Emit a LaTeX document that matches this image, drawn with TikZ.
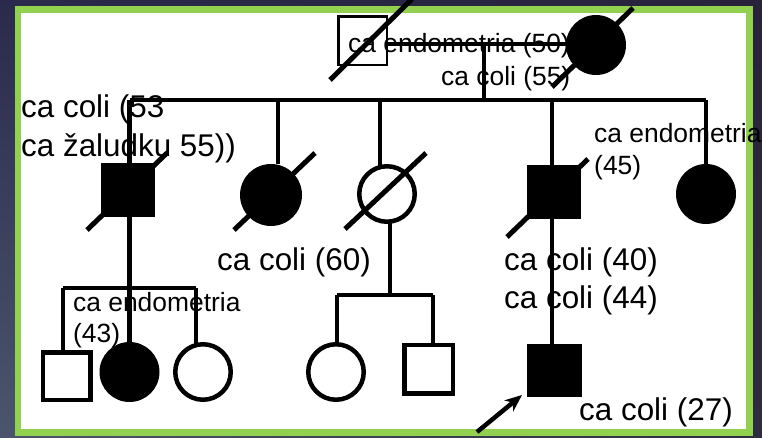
\documentclass[tikz,border=0pt]{standalone}
\usepackage{fontspec}
\setmainfont{Liberation Sans}
\usetikzlibrary{arrows.meta,shadings}
\definecolor{framegreen}{HTML}{92D050}
\definecolor{bgTL}{HTML}{2B2A4C}
\definecolor{bgTR}{HTML}{28233A}
\definecolor{bgBL}{HTML}{4C556E}
\definecolor{bgBR}{HTML}{2E2C40}
\begin{document}
\begin{tikzpicture}[x=1pt,y=-1pt,
  lnk/.style={line width=4.5pt},
  slash/.style={line width=5pt},
  fmale/.style={rectangle,fill=black,minimum size=54pt,inner sep=0pt},
  omale/.style={rectangle,draw=black,line width=4.5pt,fill=white,minimum size=47.5pt,inner sep=0pt},
  ffemale/.style={circle,fill=black,minimum size=60pt,inner sep=0pt},
  ofemale/.style={circle,draw=black,line width=4.5pt,fill=white,minimum size=55.5pt,inner sep=0pt},
  biglbl/.style={anchor=base west,inner sep=0pt,font=\fontsize{31.4}{39}\selectfont},
  smalllbl/.style={anchor=base west,inner sep=0pt,font=\fontsize{26.4}{32}\selectfont}]
\useasboundingbox (0,0) rectangle (762,438);
\shade[shading=bilinear interpolation, upper left=bgTL, upper right=bgTR, lower left=bgBL, lower right=bgBR] (0,0) rectangle (762,438);
\fill[white] (21,13) rectangle (746,429);
\draw[framegreen,line width=6.5pt] (18,9.5) rectangle (749.5,432.5);

% coordinates
\coordinate (m1) at (484,44);
\coordinate (sib) at (484,100);
\coordinate (sibL) at (129.5,100);
\coordinate (sibR) at (706,100);

% generation 1
\node[rectangle,draw=black,line width=2.5pt,fill=white,minimum size=48.5pt,inner sep=0pt] (gf) at (362.5,41) {};
\node[ffemale] (gm) at (596,45) {};

% generation 2
\node[fmale] (s1) at (128,190) {};
\node[ffemale,minimum size=62pt] (d1) at (271,195) {};
\node[ofemale] (d2) at (387,194) {};
\node[fmale] (s2) at (554,192) {};
\node[ffemale] (d3) at (706,194) {};

% generation 3
\node[omale] (c1) at (66.5,376) {};
\node[ffemale] (c2) at (129.5,372) {};
\node[ofemale] (c3) at (203,372) {};
\node[ofemale] (c4) at (336,372) {};
\node[omale,minimum size=48.5pt] (c5) at (428.5,369) {};
\node[fmale,minimum width=55pt,minimum height=53pt] (p) at (554.5,370.5) {};

% labels
\node[smalllbl] (t1) at (348,53) {ca endometria (50)};
\node[smalllbl] (t2) at (441,86) {ca coli (55)};
\node[biglbl] (t3) at (21,118) {ca coli (53};
\node[biglbl] (t4) at (21,157) {ca žaludku 55))};
\node[biglbl] (t5) at (217,270) {ca coli (60)};
\node[smalllbl] (t6) at (594,143) {ca endometria};
\node[smalllbl] (t7) at (594,175) {(45)};
\node[biglbl] (t8) at (504,270) {ca coli (40)};
\node[biglbl] (t9) at (504,308) {ca coli (44)};
\node[smalllbl] (t10) at (73,311) {ca endometria};
\node[smalllbl] (t11) at (73,342) {(43)};
\node[biglbl] (t12) at (579,420) {ca coli (27)};

% marriage and sibship
\draw[lnk] (gf.east |- m1) -- (gm.west |- m1);
\draw[lnk] (m1) -- (sib);
\draw[lnk] (sibL) -- (sibR);

% descent lines generation 2
\coordinate (b1) at (129.5,288);
\draw[lnk] (sibL) -- (b1);
\draw[lnk] (278,100) -- (278,164);
\draw[lnk] (380,100) -- (380,166);
\draw[lnk] (552,100) -- (552,344);
\draw[lnk] (sibR) -- (d3.north);

% left family
\coordinate (b1L) at (63,288);
\coordinate (b1R) at (196,288);
\draw[lnk] (b1L) -- (b1R);
\draw[lnk] (b1L) -- (63,350);
\draw[lnk] (b1R) -- (196,344);
\draw[lnk] (b1) -- (c2.north);

% middle family
\coordinate (b2) at (390,295);
\coordinate (b2L) at (337,295);
\coordinate (b2R) at (433,295);
\draw[lnk] (390,222) -- (b2);
\draw[lnk] (b2L) -- (b2R);
\draw[lnk] (b2L) -- (337,344);
\draw[lnk] (b2R) -- (433,343);

% deceased slashes
\draw[slash] (330,80) -- (412,-1);
\draw[slash] (552,87) -- (633,8);
\draw[slash] (87,230) -- (167,153);
\draw[slash] (234,230) -- (315,153);
\draw[slash] (345,229) -- (426,153);
\draw[slash] (507,237) -- (588,159);

% proband arrow
\coordinate (pa) at (477,432);
\coordinate (pt) at (522,395);
\draw[line width=4.5pt,-{Stealth[length=17pt,width=14pt,inset=5pt]}] (pa) -- (pt);
\end{tikzpicture}
\end{document}
